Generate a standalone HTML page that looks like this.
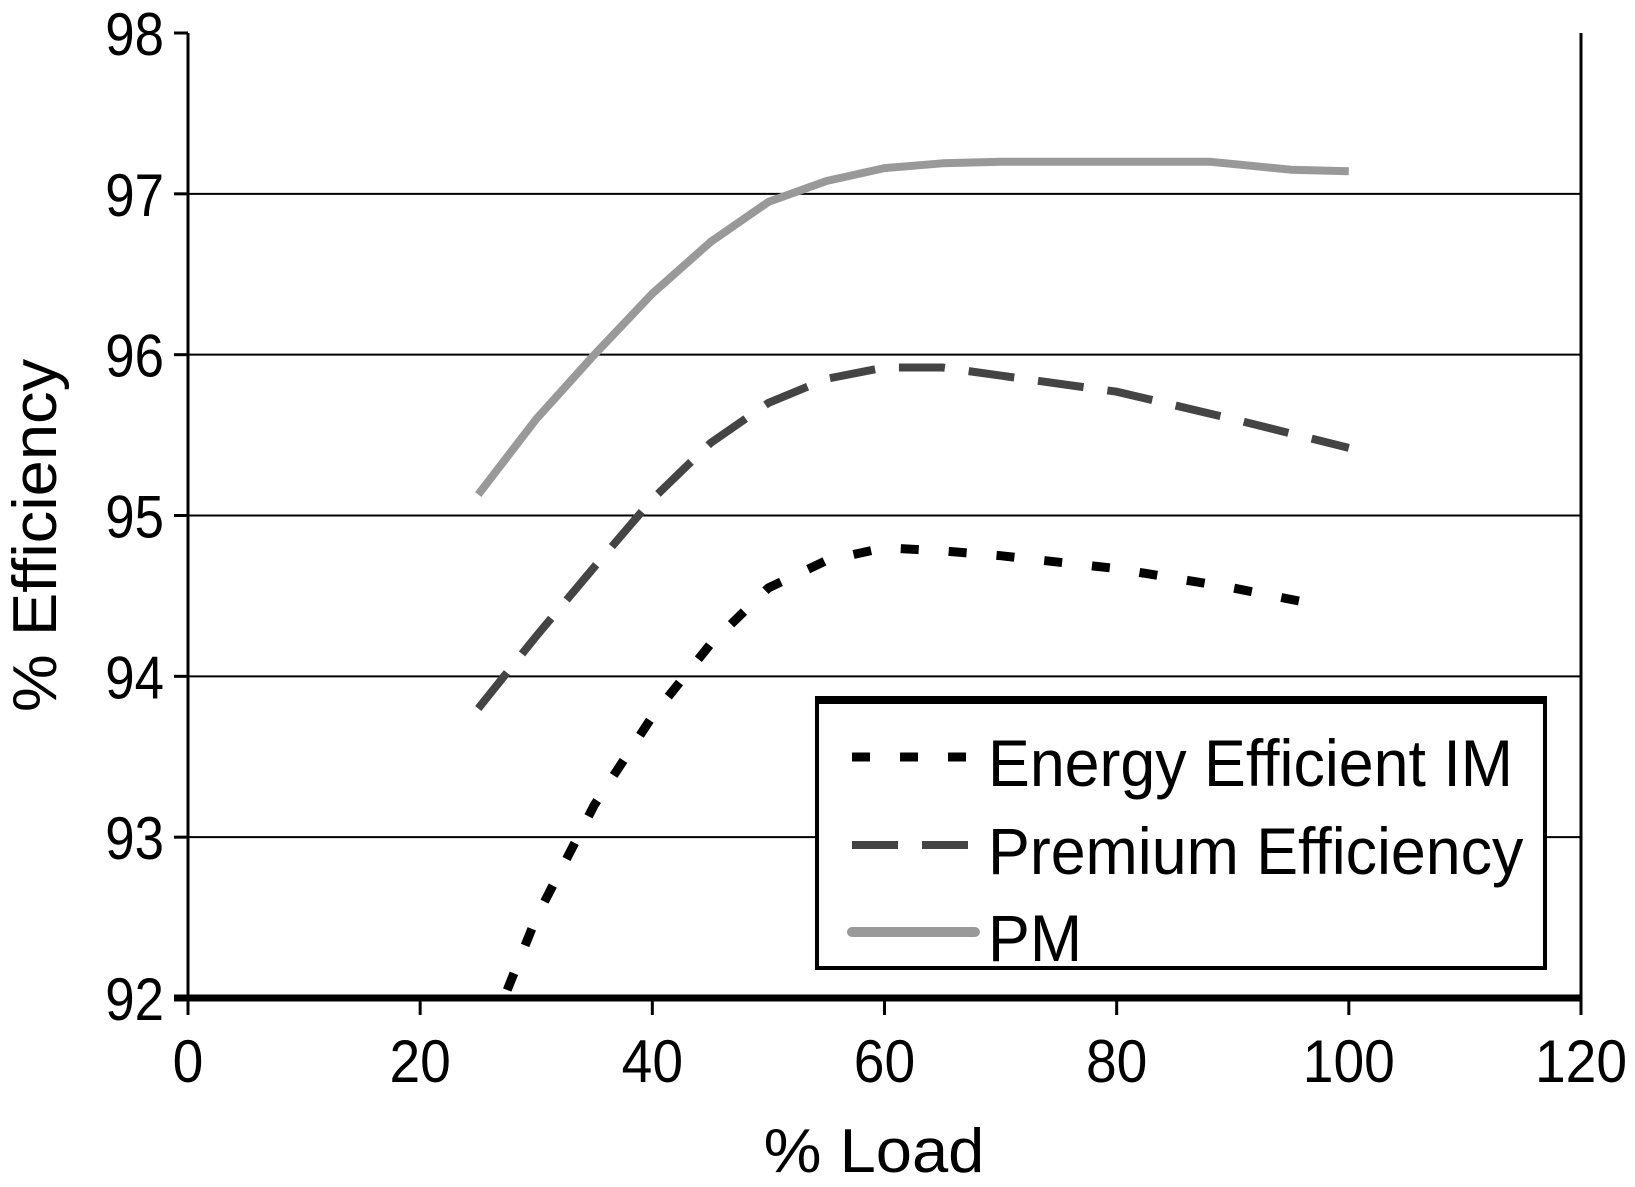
<!DOCTYPE html>
<html><head><meta charset="utf-8"><style>
body{margin:0;background:#fff}
svg{display:block;font-family:"Liberation Sans",sans-serif}
</style></head><body>
<svg id="chart" width="1635" height="1187">
<g id="grid"></g><g id="series"></g><g id="axes"></g><g id="legend"></g>
</svg>
<script>
const xTicks=[0,20,40,60,80,100,120];
const yTicks=[92,93,94,95,96,97,98];
const eeX=[27.5,30,35,40,45,50,55,60,65,70,80,90,97];
const eeY=[92.05,92.5,93.2,93.75,94.2,94.55,94.72,94.8,94.78,94.75,94.67,94.55,94.45];
const peX=[25,30,35,40,45,50,55,60,65,70,80,90,100];
const peY=[93.8,94.25,94.68,95.1,95.45,95.7,95.85,95.92,95.92,95.87,95.77,95.6,95.42];
const pmX=[25,30,35,40,45,50,55,60,65,70,80,88,95,100];
const pmY=[95.13,95.6,96.0,96.38,96.7,96.95,97.08,97.16,97.19,97.2,97.2,97.2,97.15,97.14];
const L=188,R=1581,T=33,B=998;
const sx=v=>L+(v-0)/120*(R-L);
const sy=v=>B-(v-92)/6*(B-T);
const NS="http://www.w3.org/2000/svg";
function mk(tag,attrs,parent){const e=document.createElementNS(NS,tag);for(const k in attrs)e.setAttribute(k,attrs[k]);parent.appendChild(e);return e;}
const grid=document.getElementById('grid'),axes=document.getElementById('axes'),ser=document.getElementById('series'),leg=document.getElementById('legend');
yTicks.forEach(t=>{
 if(t>92&&t<98){const g=mk('line',{x1:L,x2:R,y1:sy(t),y2:sy(t),stroke:'#000','stroke-width':2},grid);
 
 }
 const tk=mk('line',{x1:L-14,x2:L,y1:sy(t),y2:sy(t),stroke:'#000','stroke-width':3},axes);
 
 
 const tx=mk('text',{x:L-24,y:sy(t)+22,'text-anchor':'end','font-size':60,transform:`translate(${L-24},0) scale(0.88,1) translate(${-(L-24)},0)`},axes);
 tx.textContent=t;
 
 
});
xTicks.forEach(t=>{
 const tk=mk('line',{x1:sx(t),x2:sx(t),y1:B,y2:B+17,stroke:'#000','stroke-width':3},axes);
 
 
 const tx=mk('text',{x:sx(t),y:B+84,'text-anchor':'middle','font-size':60,transform:`translate(${sx(t)},0) scale(0.92,1) translate(${-sx(t)},0)`},axes);
 tx.textContent=t;
 
 
});
let a=mk('line',{x1:L,x2:L,y1:T,y2:B,stroke:'#000','stroke-width':3},axes);


a=mk('line',{x1:R,x2:R,y1:T,y2:B,stroke:'#000','stroke-width':3},axes);


a=mk('line',{x1:L-14,x2:R,y1:B,y2:B,stroke:'#000','stroke-width':7},axes);


let t=mk('text',{x:0,y:0,'text-anchor':'middle','font-size':62,transform:`translate(56,${(T+B)/2+20}) rotate(-90) scale(1.05,1)`},axes);
t.textContent='% Efficiency';


t=mk('text',{x:0,y:0,'text-anchor':'middle','font-size':62,transform:`translate(874,1172) scale(1.05,1)`},axes);
t.textContent='% Load';


function path(xs,ys){return xs.map((x,i)=>(i?'L':'M')+sx(x).toFixed(1)+' '+sy(ys[i]).toFixed(1)).join(' ');}
let p=mk('path',{d:path(pmX,pmY),fill:'none',stroke:'#999','stroke-width':8,'stroke-linejoin':'round'},ser);


p=mk('path',{d:path(peX,peY),fill:'none',stroke:'#444','stroke-width':8,'stroke-dasharray':'46 24'},ser);


p=mk('path',{d:path(eeX,eeY),fill:'none',stroke:'#000','stroke-width':9,'stroke-dasharray':'18 30'},ser);


let box=mk('rect',{x:817,y:700,width:728,height:268,fill:'#fff',stroke:'#000','stroke-width':4},leg);


mk('line',{x1:815,x2:1547,y1:700,y2:700,stroke:'#000','stroke-width':8},leg);
const items=[['Energy Efficient IM','#000','18 30',9,782],['Premium Efficiency','#444','46 24',8,870],['PM','#999','none',10,957]];
items.forEach((it,i)=>{
 const g=mk('g',{},leg);
 
 
 mk('line',{x1:852,x2:975,y1:it[4]-25,y2:it[4]-25,stroke:it[1],'stroke-width':it[3],'stroke-dasharray':it[2],'stroke-linecap':i==2?'round':'butt'},g);
 const tx=mk('text',{x:0,y:0,'font-size':66,transform:`translate(988,${it[4]+4}) scale(0.95,1)`},g);
 tx.textContent=it[0];
});
</script>
</body></html>
